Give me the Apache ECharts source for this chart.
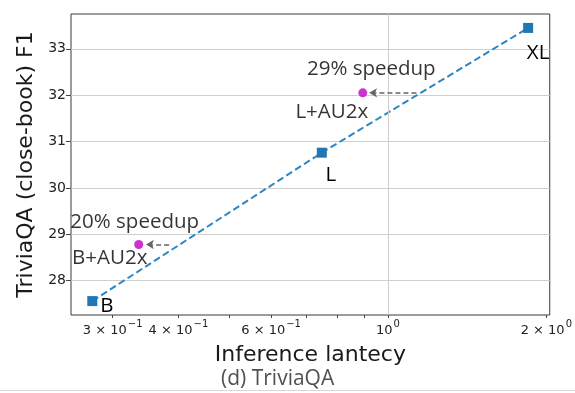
<!DOCTYPE html>
<html>
<head>
<meta charset="utf-8">
<script src="https://cdn.jsdelivr.net/npm/echarts@6/dist/echarts.min.js"></script>
<style>
  html, body { margin: 0; padding: 0; background: #ffffff; }
  #chart { width: 575px; height: 393px; }
</style>
</head>
<body>
<div id="chart"></div>
<script>
// Baseline model sizes: latency (s) vs. TriviaQA closed-book F1
const modelNames = ['B', 'L', 'XL'];
const modelLatency = [0.2744, 0.749, 1.847];
const modelF1 = [27.56, 30.76, 33.45];

// AU2x variants
const au2xNames = ['B+AU2x', 'L+AU2x'];
const au2xLatency = [0.3362, 0.896];
const au2xF1 = [28.78, 32.05];
const speedupLabels = ['20% speedup', '29% speedup'];

// Speedup arrows: from the baseline trend line back to the AU2x point
const arrowFromLatency = [0.384, 1.133];
const arrowToLatency = [0.347, 0.921];

// Axis ticks
const xTickValues = [0.3, 0.4, 0.5, 0.6, 0.7, 0.8, 0.9, 1, 2];
const xLabelValues = [0.3, 0.4, 0.6, 1, 2];
const yTickValues = [28, 29, 30, 31, 32, 33];

// Tick label as mantissa × 10^exponent, exponent set as a superscript
function sciLabel(v) {
  const e = Math.floor(Math.log10(v) + 1e-9);
  const m = Math.round(v / Math.pow(10, e));
  const exp = String(e).replace('-', '−');
  return (m === 1 ? '{b|10}' : '{b|' + m + ' × 10}') + '{s|' + exp + '}';
}

const modelLabelOffsets = [[1, 5], [9, 22], [10, 25]];
const modelLabelPos = ['right', 'inside', 'inside'];
const au2xLabelOffsets = [[-29, 14], [-31, 19]];
const speedupOffsets = [[-4, -22], [8.5, -24]];

const textFont = '"Open Sans", "Roboto", sans-serif';
const textSize = 20.5;

const chart = echarts.init(document.getElementById('chart'), null, { renderer: 'canvas' });

const option = {
  animation: false,
  backgroundColor: '#ffffff',
  grid: {
    left: 71, right: 23, top: 14, bottom: 78,
    show: true, borderColor: '#3a3a3a', borderWidth: 1, backgroundColor: 'transparent'
  },
  xAxis: {
    type: 'log',
    logBase: 10,
    min: 0.25,
    max: 2.03,
    name: 'Inference lantecy',
    nameLocation: 'middle',
    nameGap: 29,
    nameTextStyle: { fontFamily: 'DejaVu Sans', fontSize: 22, color: '#1a1a1a' },
    axisLine: { show: false },
    axisTick: { show: true, length: 3, lineStyle: { color: '#444' }, customValues: xTickValues },
    axisLabel: {
      customValues: xLabelValues,
      margin: 4,
      formatter: v => sciLabel(v),
      rich: {
        b: { fontFamily: 'DejaVu Sans', fontSize: 13, color: '#222', lineHeight: 18, verticalAlign: 'bottom' },
        s: { fontFamily: 'DejaVu Sans', fontSize: 10, color: '#222', lineHeight: 18, verticalAlign: 'top', padding: [0, 0, 0, 1] }
      }
    },
    splitLine: { show: false },
    minorTick: { show: false },
    minorSplitLine: { show: false }
  },
  yAxis: {
    type: 'value',
    min: 27.26,
    max: 33.75,
    name: 'TriviaQA (close-book) F1',
    nameLocation: 'middle',
    nameGap: 34,
    nameTextStyle: { fontFamily: 'DejaVu Sans', fontSize: 22, color: '#1a1a1a' },
    axisLine: { show: false },
    axisTick: { show: true, length: 5, lineStyle: { color: '#444' }, customValues: yTickValues },
    axisLabel: { customValues: yTickValues, fontFamily: 'DejaVu Sans', fontSize: 14, color: '#222', margin: 5 },
    splitLine: { show: true, lineStyle: { color: '#cfcfcf', width: 1 } }
  },
  series: [
    {
      name: 'baseline',
      type: 'line',
      z: 3,
      data: modelNames.map((n, i) => ({
        value: [modelLatency[i], modelF1[i]],
        name: n,
        label: { position: modelLabelPos[i], offset: modelLabelOffsets[i] }
      })),
      symbol: 'rect',
      symbolSize: 10,
      itemStyle: { color: '#1f77b4' },
      lineStyle: { color: '#2d86c4', width: 2, type: [7, 3.5] },
      label: {
        show: true,
        formatter: p => p.name,
        fontFamily: textFont, fontSize: textSize, color: '#000', distance: 2
      },
      markLine: {
        silent: true,
        symbol: 'none',
        label: { show: false },
        lineStyle: { color: '#cfcfcf', width: 1, type: 'solid' },
        data: [{ xAxis: 1 }]
      }
    },
    {
      name: 'au2x',
      type: 'scatter',
      z: 4,
      data: au2xNames.map((n, i) => ({
        value: [au2xLatency[i], au2xF1[i]],
        name: n,
        label: { offset: au2xLabelOffsets[i] }
      })),
      symbol: 'circle',
      symbolSize: 9,
      itemStyle: { color: '#c000c0' },
      label: {
        show: true,
        position: 'inside',
        formatter: p => p.name,
        fontFamily: textFont, fontSize: textSize, color: '#000'
      },
      markLine: {
        silent: true,
        symbol: ['none', 'arrow'],
        symbolSize: [7, 8],
        label: { show: false },
        lineStyle: { color: '#666', width: 1.5, type: [5, 3] },
        data: au2xF1.map((f, i) => [
          { coord: [arrowFromLatency[i], f] },
          { coord: [arrowToLatency[i], f] }
        ])
      }
    },
    {
      name: 'speedup',
      type: 'scatter',
      z: 5,
      symbolSize: 0,
      data: au2xNames.map((n, i) => ({
        value: [au2xLatency[i], au2xF1[i]],
        name: speedupLabels[i],
        label: { offset: speedupOffsets[i] }
      })),
      label: {
        show: true,
        position: 'inside',
        formatter: p => p.name,
        fontFamily: textFont, fontSize: textSize, color: '#000'
      }
    }
  ],
  graphic: [
    {
      type: 'line',
      shape: { x1: 0, y1: 390.5, x2: 575, y2: 390.5 },
      style: { stroke: '#d8d8d8', lineWidth: 1 },
      silent: true
    },
    {
      type: 'text',
      left: 221,
      top: 369,
      style: {
        text: '(d) TriviaQA',
        font: '21px "Open Sans", "Lato", sans-serif',
        fill: '#505050'
      },
      silent: true
    }
  ]
};

chart.setOption(option);
</script>
</body>
</html>
